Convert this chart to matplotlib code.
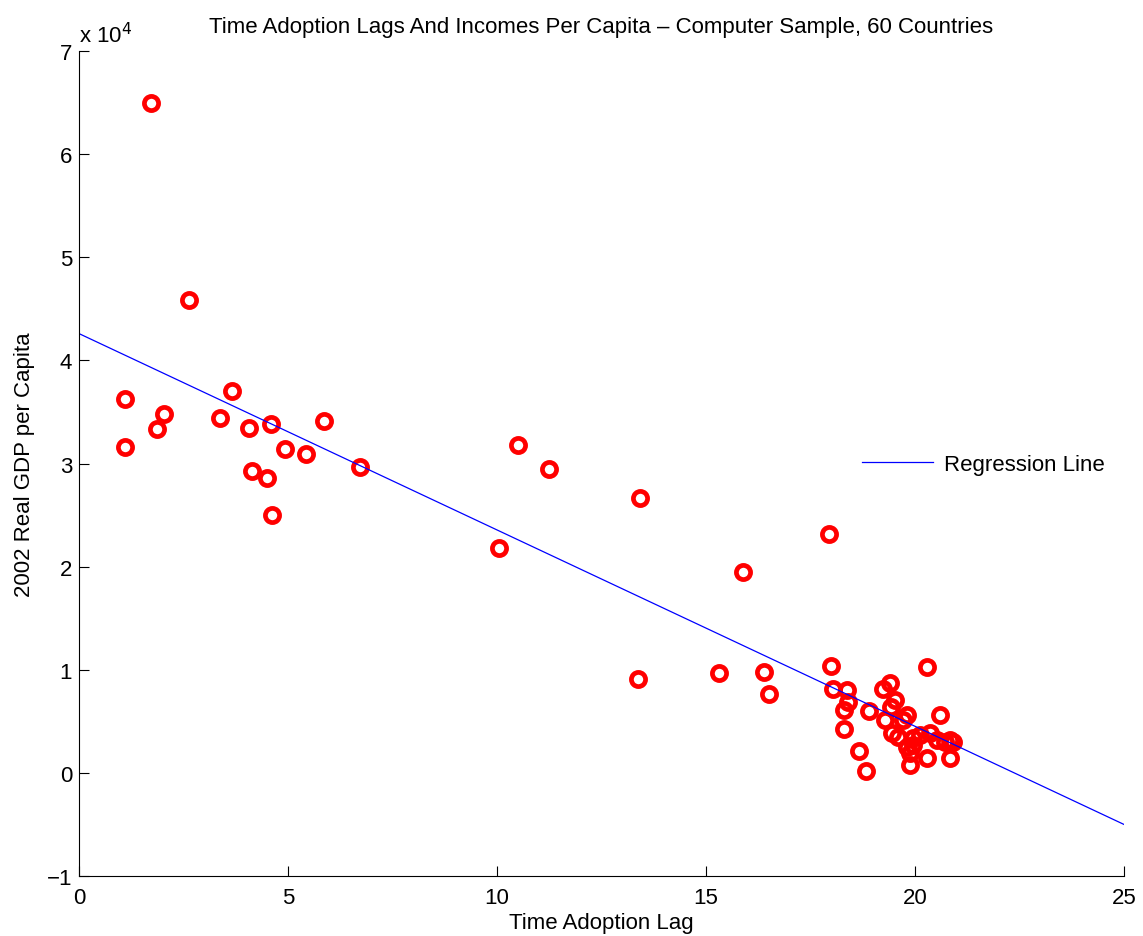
import matplotlib
matplotlib.use("Agg")
import matplotlib.pyplot as plt
from matplotlib.ticker import FuncFormatter
import numpy as np

plt.rcParams['font.family'] = ['Liberation Sans', 'DejaVu Sans']

title = "Time Adoption Lags And Incomes Per Capita \u2013 Computer Sample, 60 Countries"
xlabel = "Time Adoption Lag"
ylabel = "2002 Real GDP per Capita"
legend_label = "Regression Line"

adoption_lag = [
    1.72, 2.63, 1.10, 1.10, 2.03, 1.87, 3.66, 3.37, 4.07, 4.59,
    4.14, 4.93, 5.43, 4.50, 4.62, 5.86, 6.72,
    10.05, 10.50, 11.24, 13.42, 13.37, 15.31, 15.89, 16.39, 16.51, 17.94,
    17.99, 18.04, 18.37, 18.40, 18.30, 18.30, 18.66, 18.83, 18.90, 19.40,
    19.23, 19.52, 19.43, 19.28, 19.71, 19.81, 20.29, 20.60, 20.53, 20.36,
    19.45, 19.59, 19.95, 20.12, 19.95, 19.81, 19.88, 20.84, 20.91, 20.29,
    20.84, 19.88, 20.72,
]
gdp_per_capita = [
    64950, 45830, 36210, 31650, 34850, 33300, 36990, 34370, 33400, 33880,
    29320, 31360, 30970, 28640, 25050, 34080, 29710,
    21840, 31840, 29420, 26700, 9130, 9710, 19510, 9810, 7670, 23200,
    10390, 8160, 8060, 6890, 6120, 4270, 2140, 190, 6020, 8740,
    8160, 7090, 6410, 5150, 5150, 5630, 10290, 5630, 3200, 3880,
    3880, 3500, 3400, 3690, 2720, 2520, 1940, 3200, 3010, 1460,
    1460, 780, 3010,
]

reg_intercept = 42600.0
reg_slope = -1904.0

x_ticks = [0, 5, 10, 15, 20, 25]
y_ticks = [-10000, 0, 10000, 20000, 30000, 40000, 50000, 60000, 70000]

FS = 16

fig = plt.figure(figsize=(11.43, 9.37), dpi=100)
ax = fig.add_axes([0.0691, 0.064, 0.9143, 0.8805])

ax.plot(adoption_lag, gdp_per_capita, linestyle='none', marker='o',
        markersize=10.2, markerfacecolor='none', markeredgecolor='red',
        markeredgewidth=3.4)
xl = np.array([0, 25])
ax.plot(xl, reg_intercept + reg_slope * xl, color='blue', linewidth=0.9,
        label=legend_label)

ax.set_xlim(0, 25)
ax.set_ylim(-10000, 70000)
ax.set_xticks(x_ticks)
ax.set_yticks(y_ticks)
ax.yaxis.set_major_formatter(
    FuncFormatter(lambda v, p: f"{v/1e4:g}".replace('-', '\u2212')))
ax.tick_params(direction='in', length=7, width=0.8, labelsize=FS, pad=5,
               colors='black')
ax.tick_params(axis='x', pad=8)
for s in ['top', 'right']:
    ax.spines[s].set_visible(False)
for s in ['left', 'bottom']:
    ax.spines[s].set_linewidth(0.8)

ax.set_xlabel(xlabel, fontsize=FS, labelpad=3)
ax.set_ylabel(ylabel, fontsize=FS, labelpad=8)
ax.set_title(title, fontsize=FS, pad=14)
ax.text(0.0, 1.005, r"x 10$^4$", transform=ax.transAxes, fontsize=FS,
        ha='left', va='bottom')

leg = ax.legend(loc='center right', bbox_to_anchor=(0.982, 0.4994),
                frameon=False, fontsize=FS, handlelength=3.2,
                handletextpad=0.5, borderpad=0, borderaxespad=0)

fig.savefig("out.png", dpi=100)
